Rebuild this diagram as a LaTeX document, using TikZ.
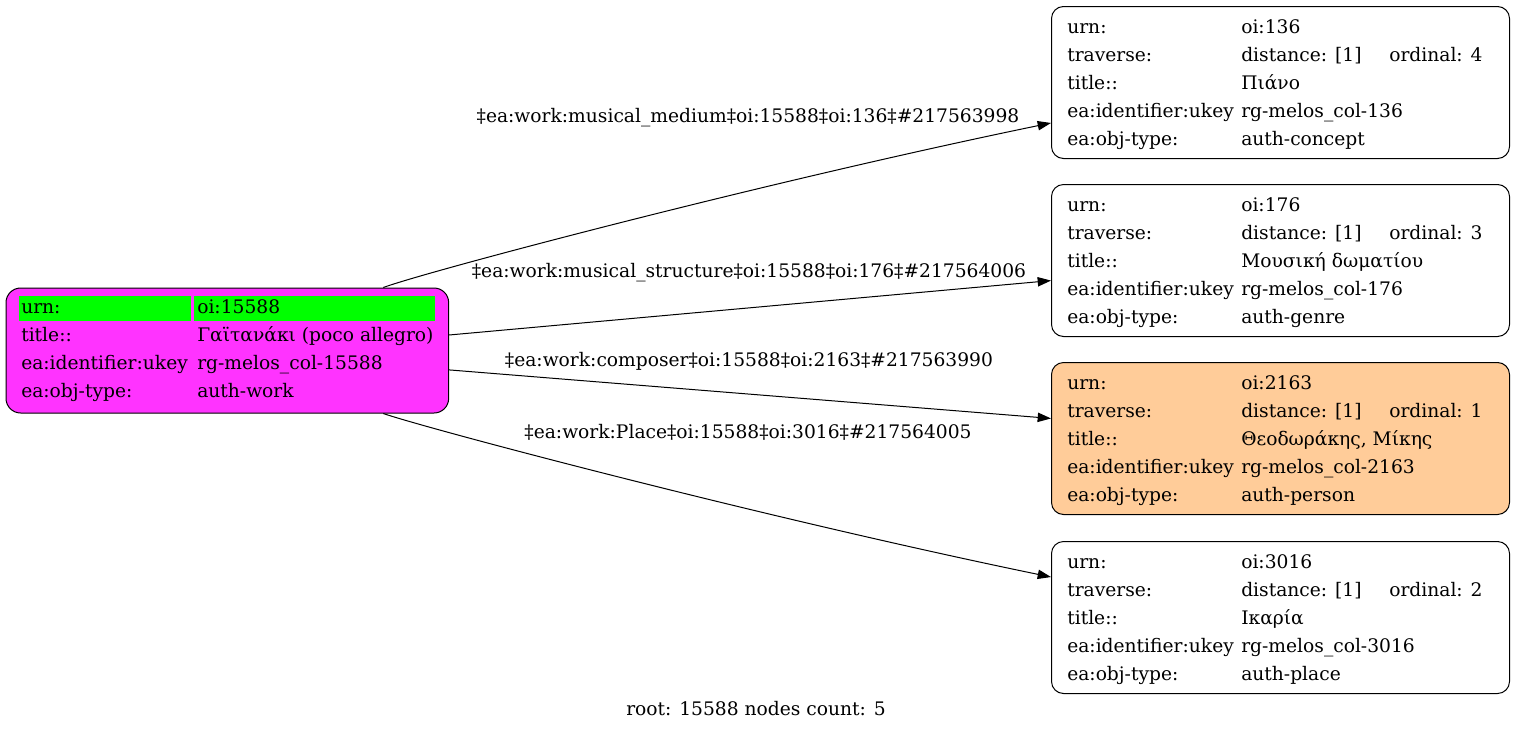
\documentclass[tikz,border=0pt]{standalone}
\usepackage{fontspec}
\setmainfont{DejaVu Serif}
\usetikzlibrary{arrows.meta}
\definecolor{rootfill}{RGB}{255,51,255}
\definecolor{hl}{RGB}{0,255,0}
\definecolor{peach}{RGB}{255,204,153}
\begin{document}
\begin{tikzpicture}[x=0.75pt,y=-0.75pt, font=\fontsize{14pt}{16pt}\selectfont,
  box/.style={draw, line width=0.75pt, rounded corners=9pt, minimum width=343.5pt, minimum height=114pt, inner sep=0pt, anchor=north west},
  txt/.style={anchor=base west, inner sep=0pt},
  lbl/.style={anchor=base, inner sep=0pt},
  conn/.style={draw, line width=0.75pt, -{Triangle[length=10pt,width=7pt]}}]
\useasboundingbox (0,0) rectangle (1515,732);
% root
\node[box, fill=rootfill, rounded corners=11pt, minimum width=332pt, minimum height=93.75pt] (root) at (5.5,287.5) {};
\fill[hl] (19,296) rectangle (190.5,321);
\fill[hl] (193.5,296) rectangle (435,321);
\node[txt] (r1a) at (21,313) {urn:};
\node[txt] (r1b) at (197,313) {oi:15588};
\node[txt] (r2a) at (21,341) {title::};
\node[txt] (r2b) at (197,341) {Γαϊτανάκι (poco allegro)};
\node[txt] (r3a) at (21,369) {ea:identifier:ukey};
\node[txt] (r3b) at (197,369) {rg-melos\_col-15588};
\node[txt] (r4a) at (21,397) {ea:obj-type:};
\node[txt] (r4b) at (197,397) {auth-work};
% box 136
\node[box] (n136) at (1051,6) {};
\node[txt] (a1) at (1067,33) {urn:};
\node[txt] (a1b) at (1241,33) {oi:136};
\node[txt] (a2) at (1067,61) {traverse:};
\node[txt] (a2b) at (1241,61) {distance: [1]};
\node[txt] (a2c) at (1389,61) {ordinal: 4};
\node[txt] (a3) at (1067,89) {title::};
\node[txt] (a3b) at (1241,89) {Πιάνο};
\node[txt] (a4) at (1067,117) {ea:identifier:ukey};
\node[txt] (a4b) at (1241,117) {rg-melos\_col-136};
\node[txt] (a5) at (1067,145) {ea:obj-type:};
\node[txt] (a5b) at (1241,145) {auth-concept};
% box 176
\node[box] (n176) at (1051,184) {};
\node[txt] (b1) at (1067,211) {urn:};
\node[txt] (b1b) at (1241,211) {oi:176};
\node[txt] (b2) at (1067,239) {traverse:};
\node[txt] (b2b) at (1241,239) {distance: [1]};
\node[txt] (b2c) at (1389,239) {ordinal: 3};
\node[txt] (b3) at (1067,267) {title::};
\node[txt] (b3b) at (1241,267) {Μουσική δωματίου};
\node[txt] (b4) at (1067,295) {ea:identifier:ukey};
\node[txt] (b4b) at (1241,295) {rg-melos\_col-176};
\node[txt] (b5) at (1067,323) {ea:obj-type:};
\node[txt] (b5b) at (1241,323) {auth-genre};
% box 2163
\node[box, fill=peach] (n2163) at (1051,362) {};
\node[txt] (c1) at (1067,389) {urn:};
\node[txt] (c1b) at (1241,389) {oi:2163};
\node[txt] (c2) at (1067,417) {traverse:};
\node[txt] (c2b) at (1241,417) {distance: [1]};
\node[txt] (c2c) at (1389,417) {ordinal: 1};
\node[txt] (c3) at (1067,445) {title::};
\node[txt] (c3b) at (1241,445) {Θεοδωράκης, Μίκης};
\node[txt] (c4) at (1067,473) {ea:identifier:ukey};
\node[txt] (c4b) at (1241,473) {rg-melos\_col-2163};
\node[txt] (c5) at (1067,501) {ea:obj-type:};
\node[txt] (c5b) at (1241,501) {auth-person};
% box 3016
\node[box] (n3016) at (1051,541) {};
\node[txt] (d1) at (1067,568) {urn:};
\node[txt] (d1b) at (1241,568) {oi:3016};
\node[txt] (d2) at (1067,596) {traverse:};
\node[txt] (d2b) at (1241,596) {distance: [1]};
\node[txt] (d2c) at (1389,596) {ordinal: 2};
\node[txt] (d3) at (1067,624) {title::};
\node[txt] (d3b) at (1241,624) {Ικαρία};
\node[txt] (d4) at (1067,652) {ea:identifier:ukey};
\node[txt] (d4b) at (1241,652) {rg-melos\_col-3016};
\node[txt] (d5) at (1067,680) {ea:obj-type:};
\node[txt] (d5b) at (1241,680) {auth-place};
% edges
\draw[conn] (root.22.4) .. controls (425,272) and (760,183) .. (n136.190.4);
\draw[conn] (root.4.9) -- (n176.185.5);
\draw[conn] (root.-5.2) -- (n2163.175.5);
\draw[conn] (root.-22.4) .. controls (425,428) and (760,517) .. (n3016.170.1);
\node[lbl] (l1) at (748,122) {‡ea:work:musical\_medium‡oi:15588‡oi:136‡\#217563998};
\node[lbl] (l2) at (749,277) {‡ea:work:musical\_structure‡oi:15588‡oi:176‡\#217564006};
\node[lbl] (l3) at (749,366) {‡ea:work:composer‡oi:15588‡oi:2163‡\#217563990};
\node[lbl] (l4) at (748,438) {‡ea:work:Place‡oi:15588‡oi:3016‡\#217564005};
\node[lbl] (foot) at (756,715) {root: 15588 nodes count: 5};
\end{tikzpicture}
\end{document}
